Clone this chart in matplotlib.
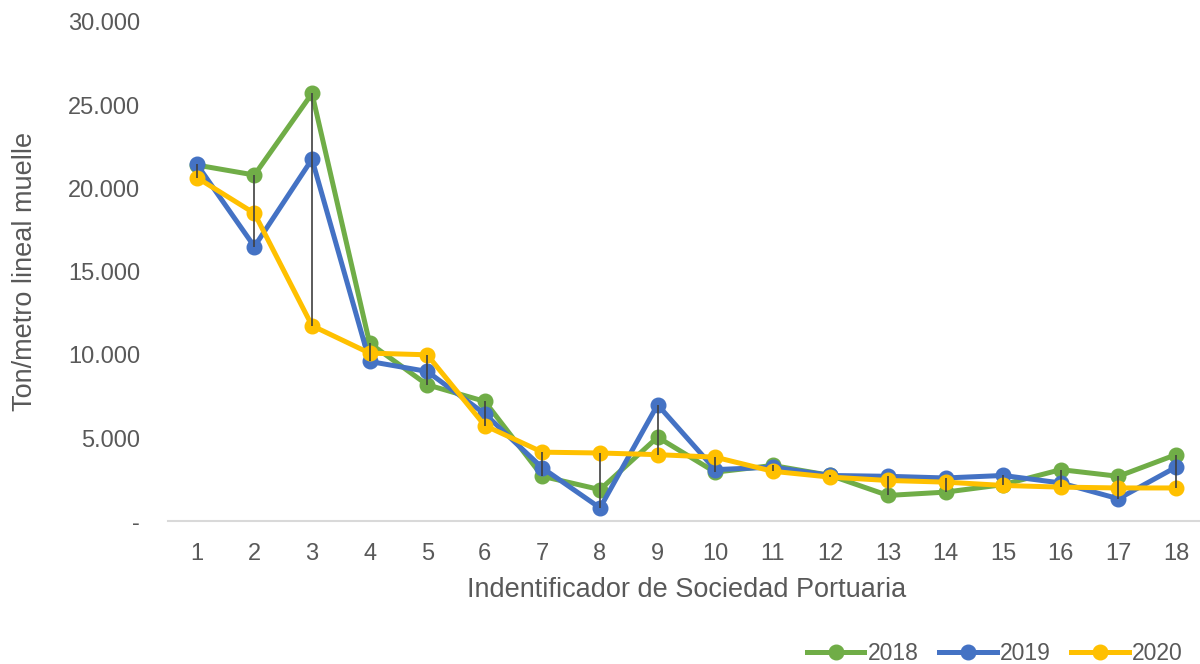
import matplotlib
matplotlib.use("Agg")
import matplotlib.pyplot as plt
from matplotlib.ticker import FuncFormatter

plt.rcParams['font.family'] = ['Liberation Sans', 'DejaVu Sans']

ids = list(range(1, 19))
v2018 = [21400, 20800, 25700, 10700, 8200, 7200, 2700, 1900, 5050, 2950, 3350, 2750, 1550, 1750, 2200, 3100, 2700, 4000]
v2019 = [21450, 16500, 21750, 9600, 9000, 6450, 3200, 800, 7000, 3100, 3250, 2750, 2700, 2600, 2750, 2300, 1350, 3250]
v2020 = [20650, 18500, 11750, 10100, 10000, 5750, 4150, 4100, 4000, 3850, 3000, 2650, 2450, 2350, 2150, 2050, 2000, 2000]

series = [("2018", v2018, "#70AD47"), ("2019", v2019, "#4472C4"), ("2020", v2020, "#FFC000")]
grey = "#595959"

fig = plt.figure(figsize=(12, 6.64), dpi=100)
ax = fig.add_axes([0.14, 0.215, 0.864, 0.752])

for name, vals, col in series:
    ax.plot(ids, vals, color=col, lw=3.6, marker="o", markersize=10.5, label=name,
            solid_joinstyle="round")

# high-low lines
lows = [min(a, b, c) for a, b, c in zip(v2018, v2019, v2020)]
highs = [max(a, b, c) for a, b, c in zip(v2018, v2019, v2020)]
ax.vlines(ids, lows, highs, color="#404040", lw=1.2, zorder=5)

ax.set_xlim(0.5, 18.5)
ax.set_ylim(0, 30000)
ax.set_yticks(range(0, 30001, 5000))
ax.yaxis.set_major_formatter(FuncFormatter(lambda v, p: "-" if v == 0 else f"{int(v):,}".replace(",", ".")))
ax.set_xticks(ids)

for s in ["top", "right", "left"]:
    ax.spines[s].set_visible(False)
ax.spines["bottom"].set_color("#D9D9D9")
ax.spines["bottom"].set_linewidth(1.5)

ax.tick_params(axis="y", length=0, pad=20, labelsize=17, labelcolor=grey)
ax.tick_params(axis="x", length=0, pad=16, labelsize=17, labelcolor=grey)

ax.set_ylabel("Ton/metro lineal muelle", fontsize=19.5, color=grey, labelpad=22)
ax.set_xlabel("Indentificador de Sociedad Portuaria", fontsize=19.5, color=grey, labelpad=8)

leg = fig.legend(loc="lower right", bbox_to_anchor=(1.003, -0.032), ncol=3, frameon=False,
                 fontsize=16.5, handlelength=2.5, columnspacing=0.9, handletextpad=0.15)
for t in leg.get_texts():
    t.set_color(grey)

fig.savefig("out.png", dpi=100)
